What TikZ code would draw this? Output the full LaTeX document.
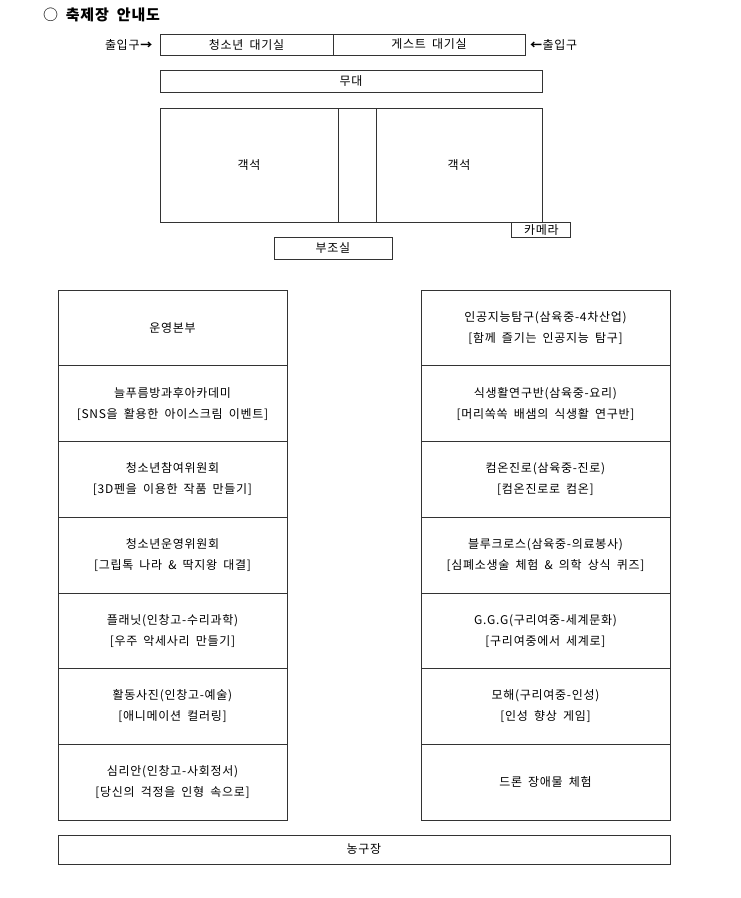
\documentclass[tikz,border=0pt]{standalone}
\usepackage{fontspec}
\setmainfont{Noto Sans CJK KR}[LetterSpace=6, WordSpace=1.8]
\usepackage{tikz}
\usetikzlibrary{positioning}

\tikzset{
  room/.style={draw=black!80, line width=0.7pt, inner sep=0, outer sep=0, align=center,
    font=\fontsize{12}{21}\selectfont},
  booth/.style={room, minimum height=75.714pt},
  label text/.style={inner sep=0, outer sep=0, font=\fontsize{12}{14}\selectfont}
}

\begin{document}
\begin{tikzpicture}[x=1pt,y=-1pt]
  \useasboundingbox (0,0) rectangle (740,898);

  \node [label text, anchor=west, font=\fontsize{15}{17}\selectfont\bfseries] (title) at (43,15) {{\mdseries○} 축제장 안내도};

  % waiting rooms and entrances
  \node [room, minimum width=173pt, minimum height=21pt] (youth) at (246.5,44.5) {청소년 대기실};
  \node [room, minimum width=192pt, minimum height=21pt] (guest) at (429,44.5) {게스트 대기실};
  \node [label text, left=7pt of youth] (inL) {출입구\textbf{→}};
  \node [label text, right=5pt of guest] (inR) {\textbf{←}출입구};

  % stage and seats
  \node [room, minimum width=382pt, minimum height=22pt] (stage) at (351,81) {무대};
  \node [room, minimum width=178pt, minimum height=114pt] (seatL) at (249,165) {객석};
  \node [room, minimum width=38pt, minimum height=114pt] (aisle) at (357,165) {};
  \node [room, minimum width=166pt, minimum height=114pt] (seatR) at (459,165) {객석};
  \node [room, minimum width=59pt, minimum height=14.5pt] (camera) at (541.3,230) {카메라};
  \node [room, minimum width=118pt, minimum height=22pt] (control) at (333,248) {부조실};

  % left booths
  \node [booth, minimum width=229pt] (L1) at (172.5,327.857) {운영본부};
  \node [booth, minimum width=229pt, below=0pt of L1] (L2) {늘푸름방과후아카데미\\{}[SNS을 활용한 아이스크림 이벤트]};
  \node [booth, minimum width=229pt, below=0pt of L2] (L3) {청소년참여위원회\\{}[3D펜을 이용한 작품 만들기]};
  \node [booth, minimum width=229pt, below=0pt of L3] (L4) {청소년운영위원회\\{}[그립톡 나라 \& 딱지왕 대결]};
  \node [booth, minimum width=229pt, below=0pt of L4] (L5) {플래닛(인창고-수리과학)\\{}[우주 악세사리 만들기]};
  \node [booth, minimum width=229pt, below=0pt of L5] (L6) {활동사진(인창고-예술)\\{}[애니메이션 컬러링]};
  \node [booth, minimum width=229pt, below=0pt of L6] (L7) {심리안(인창고-사회정서)\\{}[당신의 걱정을 인형 속으로]};

  % right booths
  \node [booth, minimum width=249pt] (R1) at (545.5,327.857) {인공지능탐구(삼육중-4차산업)\\{}[함께 즐기는 인공지능 탐구]};
  \node [booth, minimum width=249pt, below=0pt of R1] (R2) {식생활연구반(삼육중-요리)\\{}[머리쏙쏙 배샘의 식생활 연구반]};
  \node [booth, minimum width=249pt, below=0pt of R2] (R3) {컴온진로(삼육중-진로)\\{}[컴온진로로 컴온]};
  \node [booth, minimum width=249pt, below=0pt of R3] (R4) {블루크로스(삼육중-의료봉사)\\{}[심폐소생술 체험 \& 의학 상식 퀴즈]};
  \node [booth, minimum width=249pt, below=0pt of R4] (R5) {G.G.G(구리여중-세계문화)\\{}[구리여중에서 세계로]};
  \node [booth, minimum width=249pt, below=0pt of R5] (R6) {모해(구리여중-인성)\\{}[인성 향상 게임]};
  \node [booth, minimum width=249pt, below=0pt of R6] (R7) {드론 장애물 체험};

  \node [room, minimum width=612pt, minimum height=29pt] (court) at (364,849.5) {농구장};

\end{tikzpicture}
\end{document}
